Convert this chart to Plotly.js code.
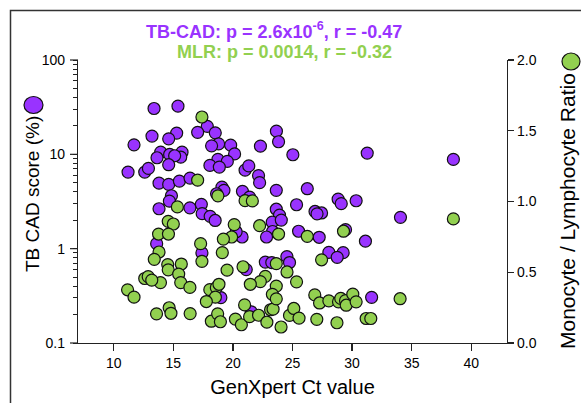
<!DOCTYPE html>
<html>
<head>
<meta charset="utf-8">
<script src="https://cdn.plot.ly/plotly-3.0.1.min.js"></script>
<style>html,body{margin:0;padding:0;background:#fff;}#chart{width:581px;height:403px;}</style>
</head>
<body>
<div id="chart"></div>
<script>
// TB-CAD score (%) vs GenXpert Ct value
const tbcadCt = [13.38,15.39,17.85,18.52,17.04,15.28,14.61,13.21,11.70,18.80,18.21,19.81,20.14,13.94,14.69,15.73,15.62,13.63,15.11,14.61,18.74,19.53,18.07,18.86,21.02,11.20,12.60,12.91,13.80,14.61,15.51,16.40,19.08,19.25,18.63,20.80,14.84,14.67,13.80,16.39,17.35,17.42,23.65,23.83,22.31,25.03,31.27,21.33,22.15,22.24,23.64,26.24,21.40,23.64,25.34,28.83,29.09,30.34,26.89,27.44,23.91,23.30,24.06,23.33,22.82,20.77,25.51,27.24,29.45,31.12,28.05,29.25,28.75,24.53,24.75,22.72,23.26,21.12,21.54,31.64,34.06,38.50,18.09,18.51,13.60,17.40,18.99,20.27,27.06];
const tbcadScore = [30.6,32.4,19.8,16.9,17.1,16.8,14.6,15.6,12.6,12.9,12.3,12.5,10.1,10.55,9.97,10.55,9.34,9.2,9.66,7.76,8.83,8.41,7.63,7.32,6.80,6.48,6.48,7.09,4.95,4.80,5.20,5.60,4.49,4.15,3.82,4.05,3.64,3.19,2.65,2.71,2.95,2.35,17.6,13.6,12.2,9.9,10.3,7.54,5.95,5.01,4.15,4.32,3.52,2.62,2.92,3.35,3.00,3.22,2.48,2.39,2.27,1.91,2.01,1.52,1.33,1.33,1.53,1.32,1.59,1.20,0.914,0.907,0.809,0.823,0.713,0.72,0.713,0.60,0.214,0.305,2.15,8.83,2.20,1.99,1.13,0.903,0.303,1.51,2.34];

// Monocyte / Lymphocyte Ratio vs GenXpert Ct value
const mlrCt = [17.40,17.04,18.74,21.02,15.34,21.63,14.57,15.00,13.76,14.59,20.11,19.89,19.20,17.29,17.40,19.11,13.80,13.40,19.51,14.53,14.57,15.67,15.45,15.62,16.39,12.60,12.89,13.92,13.19,11.16,11.70,13.59,14.65,14.80,16.41,18.06,18.61,18.83,18.53,17.77,18.19,18.72,18.95,20.21,20.71,20.98,21.40,22.15,22.85,23.16,23.37,24.04,24.75,25.11,25.55,27.04,28.73,31.18,31.57,26.87,27.27,28.05,28.86,29.05,29.45,29.51,30.06,30.34,34.03,38.50,22.24,23.83,26.24,29.28,27.44,23.64,24.54,20.85,22.72,22.30,21.46,25.34,23.64,23.31,23.64];
const mlrValue = [1.597,1.151,1.040,1.006,0.962,1.004,0.860,0.841,0.770,0.770,0.837,0.749,0.734,0.702,0.577,0.639,0.643,0.591,0.515,0.554,0.517,0.558,0.487,0.427,0.393,0.456,0.469,0.427,0.444,0.376,0.324,0.206,0.249,0.210,0.208,0.377,0.391,0.415,0.324,0.293,0.154,0.206,0.150,0.169,0.129,0.269,0.186,0.196,0.147,0.235,0.239,0.113,0.195,0.244,0.176,0.167,0.143,0.173,0.173,0.340,0.283,0.298,0.291,0.315,0.299,0.267,0.345,0.291,0.313,0.877,0.829,0.770,0.754,0.790,0.588,0.561,0.502,0.539,0.471,0.434,0.415,0.432,0.402,0.344,0.312];

const xTicks = [10,15,20,25,30,35,40];
const yTicks = [0.1,1,10,100];
const yTickText = ['0.1','1','10','100'];
const y2Ticks = [0,0.5,1,1.5,2];
const y2TickText = ['0.0','0.5','1.0','1.5','2.0'];
const titleLine1 = 'TB-CAD: p = 2.6x10<sup>-6</sup>, r = -0.47';
const titleLine2 = 'MLR: p = 0.0014, r = -0.32';
const xTitle = 'GenXpert Ct value';
const yTitle = 'TB CAD score (%)';
const y2Title = 'Monocyte / Lymphocyte Ratio';

const PURPLE = '#9933FF';
const GREEN = '#92D050';
const FONT = 'Liberation Sans, Arial, Helvetica, sans-serif';
const AX = '#222';

// every log tick position (1..9 in each decade); only decades carry a label
const allLogTicks = [];
const allLogText = [];
for (let e = -1; e <= 2; e++) {
  for (let d = 1; d <= 9; d++) {
    if (e === 2 && d > 1) break;
    allLogTicks.push(d * Math.pow(10, e));
    allLogText.push(d === 1 ? yTickText[e + 1] : '');
  }
}

const traces = [
  {x: tbcadCt, y: tbcadScore, type: 'scatter', mode: 'markers', yaxis: 'y', name: 'TB CAD',
   marker: {size: 12, color: PURPLE, line: {color: '#111', width: 1.2}}, hoverinfo: 'skip'},
  {x: mlrCt, y: mlrValue, type: 'scatter', mode: 'markers', yaxis: 'y2', name: 'MLR',
   marker: {size: 12, color: GREEN, line: {color: '#111', width: 1.2}}, hoverinfo: 'skip'}
];

const L = 78, R = 74, T = 60, B = 60, W = 581, H = 403;
const pw = W - L - R, ph = H - T - B;
const px = v => (v - L) / pw;
const py = v => (H - B - v) / ph;
const yLogMin = -1, yLogMax = 2;

// longer (major) tick marks at the labelled decades
const majorTickShapes = yTicks.map(v => ({
  type: 'line', xref: 'paper', yref: 'paper',
  x0: px(70), x1: px(78),
  y0: (Math.log10(v) - yLogMin) / (yLogMax - yLogMin),
  y1: (Math.log10(v) - yLogMin) / (yLogMax - yLogMin),
  line: {color: AX, width: 1.2}
}));

const layout = {
  width: W, height: H,
  margin: {l: L, r: R, t: T, b: B, pad: 0},
  paper_bgcolor: '#fff', plot_bgcolor: '#fff',
  showlegend: false, hovermode: false,
  font: {family: FONT, size: 14, color: '#000'},
  xaxis: {
    range: [7, 43], tickmode: 'array', tickvals: xTicks,
    ticks: 'outside', ticklen: 7, tickwidth: 1.2, tickcolor: AX,
    showline: true, linecolor: AX, linewidth: 1.2,
    showgrid: false, zeroline: false,
    tickfont: {family: FONT, size: 14, color: '#000'},
    title: {text: xTitle, font: {family: FONT, size: 20, color: '#000'}, standoff: 10}
  },
  yaxis: {
    type: 'log', range: [yLogMin, yLogMax], tickmode: 'array', tickvals: allLogTicks, ticktext: allLogText,
    ticks: 'outside', ticklen: 4, tickwidth: 1, tickcolor: AX, ticklabelstandoff: 5,
    showline: true, linecolor: AX, linewidth: 1.2,
    showgrid: false, zeroline: false,
    tickfont: {family: FONT, size: 14, color: '#000'}
  },
  yaxis2: {
    overlaying: 'y', side: 'right', anchor: 'x',
    range: [0, 2], tickmode: 'array', tickvals: y2Ticks, ticktext: y2TickText,
    ticks: 'outside', ticklen: 6, tickwidth: 1.2, tickcolor: AX,
    showline: true, linecolor: AX, linewidth: 1.2,
    showgrid: false, zeroline: false,
    tickfont: {family: FONT, size: 14, color: '#000'}
  },
  annotations: [
    {text: titleLine1, xref: 'paper', yref: 'paper', x: px(274), y: py(30.5), xanchor: 'center', yanchor: 'middle',
     showarrow: false, font: {family: FONT, size: 18, color: PURPLE, weight: 'bold'}},
    {text: titleLine2, xref: 'paper', yref: 'paper', x: px(284.5), y: py(52), xanchor: 'center', yanchor: 'middle',
     showarrow: false, font: {family: FONT, size: 18, color: GREEN, weight: 'bold'}},
    {text: yTitle, xref: 'paper', yref: 'paper', x: px(32), y: py(194), xanchor: 'center', yanchor: 'middle',
     textangle: -90, showarrow: false, font: {family: FONT, size: 19, color: '#000'}},
    {text: y2Title, xref: 'paper', yref: 'paper', x: px(567), y: py(211), xanchor: 'center', yanchor: 'middle',
     textangle: -90, showarrow: false, font: {family: FONT, size: 21, color: '#000'}}
  ],
  shapes: [
    {type: 'rect', xref: 'paper', yref: 'paper', x0: px(10.5), x1: px(620), y0: py(440), y1: py(10.5),
     line: {color: '#333', width: 1.5}, fillcolor: 'rgba(0,0,0,0)', layer: 'below'},
    {type: 'circle', xref: 'paper', yref: 'paper', xsizemode: 'pixel', ysizemode: 'pixel',
     xanchor: px(33.5), yanchor: py(105), x0: -9.5, x1: 9.5, y0: -8.5, y1: 8.5,
     fillcolor: PURPLE, line: {color: '#111', width: 1.2}},
    {type: 'circle', xref: 'paper', yref: 'paper', xsizemode: 'pixel', ysizemode: 'pixel',
     xanchor: px(571), yanchor: py(61.5), x0: -9, x1: 9, y0: -8.5, y1: 8.5,
     fillcolor: GREEN, line: {color: '#111', width: 1.2}}
  ].concat(majorTickShapes)
};

Plotly.newPlot('chart', traces, layout, {staticPlot: true, displayModeBar: false});
</script>
</body>
</html>
